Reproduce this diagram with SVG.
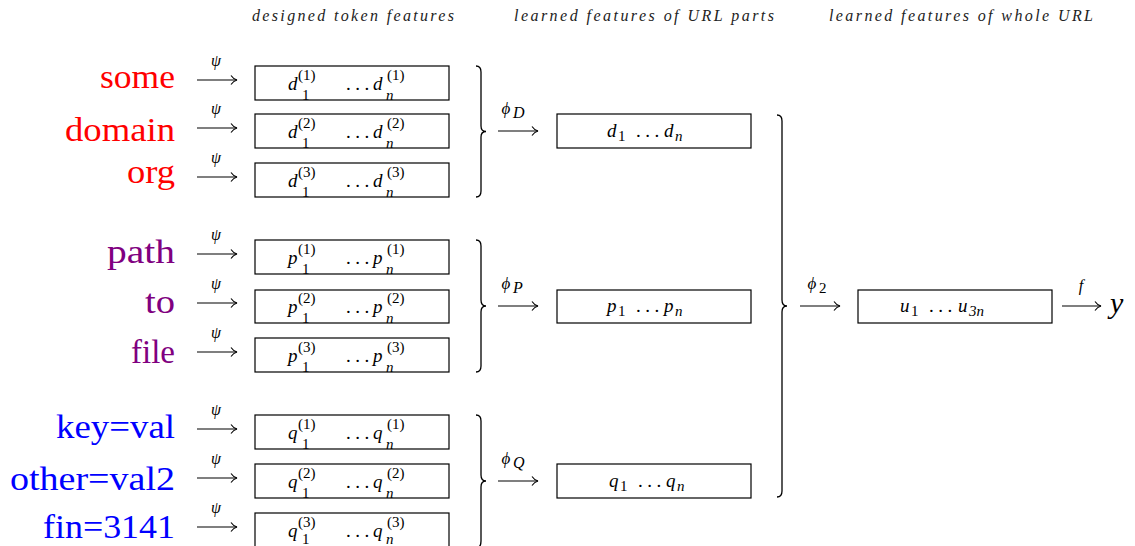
<svg xmlns="http://www.w3.org/2000/svg" width="1135" height="546" viewBox="0 0 1135 546">
<style>
  .hdr { font-family: "Liberation Serif", serif; font-style: italic; font-size: 16px; fill: #222; }
  .tok { font-family: "Liberation Serif", serif; font-size: 34px; text-anchor: end; }
  .red { fill: #ff0000; } .pur { fill: #800080; } .blu { fill: #0000ff; }
  .box { fill: #fff; stroke: #000; stroke-width: 1.2; }
  .m { font-family: "Liberation Serif", serif; font-style: italic; font-size: 19px; fill: #000; }
  .s { font-family: "Liberation Serif", serif; font-size: 15px; fill: #000; }
  .si { font-family: "Liberation Serif", serif; font-style: italic; font-size: 15px; fill: #000; }
  .dots { font-family: "Liberation Serif", serif; font-size: 19px; fill: #000; letter-spacing: 4.5px; }
  .lbl { font-family: "Liberation Serif", serif; font-style: italic; font-size: 16px; fill: #000; text-anchor: middle; }
  .brace { fill: none; stroke: #000; stroke-width: 1.3; }
  .arr { stroke: #000; stroke-width: 1.1; fill: none; marker-end: url(#ah); }
</style>
<defs>
  <marker id="ah" viewBox="0 0 8 10" refX="7" refY="5" markerWidth="8" markerHeight="10" markerUnits="userSpaceOnUse" orient="auto">
    <path d="M1,0.5 C3,3.5 5,4.5 7,5 C5,5.5 3,6.5 1,9.5" fill="none" stroke="#000" stroke-width="1.1"/>
  </marker>
</defs>

<g id="headers">
  <text class="hdr" x="252" y="21" textLength="202" lengthAdjust="spacing">designed token features</text>
  <text class="hdr" x="514" y="21" textLength="260" lengthAdjust="spacing">learned features of URL parts</text>
  <text class="hdr" x="829" y="21" textLength="264" lengthAdjust="spacing">learned features of whole URL</text>
</g>

<g id="tokens">
  <text id="tok-some" class="tok red" x="175" y="88" textLength="75" lengthAdjust="spacingAndGlyphs">some</text>
  <text id="tok-domain" class="tok red" x="175" y="141" textLength="110" lengthAdjust="spacingAndGlyphs">domain</text>
  <text id="tok-org" class="tok red" x="175" y="183" textLength="48" lengthAdjust="spacingAndGlyphs">org</text>
  <text id="tok-path" class="tok pur" x="175" y="263" textLength="68" lengthAdjust="spacingAndGlyphs">path</text>
  <text id="tok-to" class="tok pur" x="175" y="313" textLength="30" lengthAdjust="spacingAndGlyphs">to</text>
  <text id="tok-file" class="tok pur" x="175" y="363" textLength="44" lengthAdjust="spacingAndGlyphs">file</text>
  <text id="tok-key" class="tok blu" x="175" y="438" textLength="119" lengthAdjust="spacingAndGlyphs">key=val</text>
  <text id="tok-other" class="tok blu" x="175" y="490" textLength="165" lengthAdjust="spacingAndGlyphs">other=val2</text>
  <text id="tok-fin" class="tok blu" x="175" y="538" textLength="132" lengthAdjust="spacingAndGlyphs">fin=3141</text>
</g>

<!-- token feature boxes -->
<g id="box-d1"><rect class="box" x="255" y="66" width="194" height="34"/>
  <text class="m" x="288" y="90">d</text><text class="s" x="298" y="80">(1)</text><text class="s" x="302" y="100">1</text>
  <text class="dots" x="346" y="90">...</text>
  <text class="m" x="373" y="90">d</text><text class="s" x="387" y="80">(1)</text><text class="si" x="386" y="100">n</text></g>
<g id="box-d2"><rect class="box" x="255" y="114" width="194" height="34"/>
  <text class="m" x="288" y="138">d</text><text class="s" x="298" y="128">(2)</text><text class="s" x="302" y="148">1</text>
  <text class="dots" x="346" y="138">...</text>
  <text class="m" x="373" y="138">d</text><text class="s" x="387" y="128">(2)</text><text class="si" x="386" y="148">n</text></g>
<g id="box-d3"><rect class="box" x="255" y="163" width="194" height="34"/>
  <text class="m" x="288" y="187">d</text><text class="s" x="298" y="177">(3)</text><text class="s" x="302" y="197">1</text>
  <text class="dots" x="346" y="187">...</text>
  <text class="m" x="373" y="187">d</text><text class="s" x="387" y="177">(3)</text><text class="si" x="386" y="197">n</text></g>

<g id="box-p1"><rect class="box" x="255" y="240" width="194" height="34"/>
  <text class="m" x="288" y="264">p</text><text class="s" x="298" y="254">(1)</text><text class="s" x="302" y="274">1</text>
  <text class="dots" x="346" y="264">...</text>
  <text class="m" x="373" y="264">p</text><text class="s" x="387" y="254">(1)</text><text class="si" x="386" y="274">n</text></g>
<g id="box-p2"><rect class="box" x="255" y="290" width="194" height="33"/>
  <text class="m" x="288" y="313">p</text><text class="s" x="298" y="303">(2)</text><text class="s" x="302" y="323">1</text>
  <text class="dots" x="346" y="313">...</text>
  <text class="m" x="373" y="313">p</text><text class="s" x="387" y="303">(2)</text><text class="si" x="386" y="323">n</text></g>
<g id="box-p3"><rect class="box" x="255" y="338" width="194" height="34"/>
  <text class="m" x="288" y="362">p</text><text class="s" x="298" y="352">(3)</text><text class="s" x="302" y="372">1</text>
  <text class="dots" x="346" y="362">...</text>
  <text class="m" x="373" y="362">p</text><text class="s" x="387" y="352">(3)</text><text class="si" x="386" y="372">n</text></g>

<g id="box-q1"><rect class="box" x="255" y="415" width="194" height="34"/>
  <text class="m" x="288" y="439">q</text><text class="s" x="298" y="429">(1)</text><text class="s" x="302" y="449">1</text>
  <text class="dots" x="346" y="439">...</text>
  <text class="m" x="373" y="439">q</text><text class="s" x="387" y="429">(1)</text><text class="si" x="386" y="449">n</text></g>
<g id="box-q2"><rect class="box" x="255" y="464" width="194" height="34"/>
  <text class="m" x="288" y="488">q</text><text class="s" x="298" y="478">(2)</text><text class="s" x="302" y="498">1</text>
  <text class="dots" x="346" y="488">...</text>
  <text class="m" x="373" y="488">q</text><text class="s" x="387" y="478">(2)</text><text class="si" x="386" y="498">n</text></g>
<g id="box-q3"><rect class="box" x="255" y="513" width="194" height="34"/>
  <text class="m" x="288" y="537">q</text><text class="s" x="298" y="527">(3)</text><text class="s" x="302" y="544">1</text>
  <text class="dots" x="346" y="537">...</text>
  <text class="m" x="373" y="537">q</text><text class="s" x="387" y="527">(3)</text><text class="si" x="386" y="544">n</text></g>

<!-- braces -->
<g id="braces">
  <path class="brace" d="M476,66 C480,66 481,68 481,72 L481,126 C481,130 483,131.5 486,131.5 C483,131.5 481,133 481,137 L481,191 C481,195 480,197 476,197"/>
  <path class="brace" d="M476,240 C480,240 481,242 481,246 L481,300 C481,304 483,306 486,306 C483,306 481,308 481,312 L481,366 C481,370 480,372 476,372"/>
  <path class="brace" d="M476,415 C480,415 481,417 481,421 L481,475 C481,479 483,481 486,481 C483,481 481,483 481,487 L481,541 C481,545 480,548 476,548"/>
  <path class="brace" d="M777,115 C781,115 782,117 782,121 L782,300 C782,304 784,306 787,306 C784,306 782,308 782,312 L782,491 C782,495 781,497 777,497"/>
</g>

<!-- part feature boxes -->
<g id="box-d"><rect class="box" x="557" y="114" width="194" height="34"/>
  <text class="m" x="607" y="137">d</text><text class="s" x="618" y="141">1</text>
  <text class="dots" x="636" y="137">...</text>
  <text class="m" x="664" y="137">d</text><text class="si" x="675" y="141">n</text></g>
<g id="box-p"><rect class="box" x="557" y="290" width="194" height="33"/>
  <text class="m" x="607" y="312">p</text><text class="s" x="618" y="316">1</text>
  <text class="dots" x="636" y="312">...</text>
  <text class="m" x="664" y="312">p</text><text class="si" x="675" y="316">n</text></g>
<g id="box-q"><rect class="box" x="557" y="464" width="194" height="34"/>
  <text class="m" x="609" y="487">q</text><text class="s" x="620" y="491">1</text>
  <text class="dots" x="638" y="487">...</text>
  <text class="m" x="666" y="487">q</text><text class="si" x="677" y="491">n</text></g>

<!-- whole URL box -->
<g id="box-u"><rect class="box" x="858" y="290" width="194" height="33"/>
  <text class="m" x="900" y="312">u</text><text class="s" x="911" y="316">1</text>
  <text class="dots" x="929" y="312">...</text>
  <text class="m" x="958" y="312">u</text><text class="si" x="969" y="316">3n</text></g>

<g id="output-y"><text x="1110" y="313" style="font-family:'Liberation Serif',serif;font-style:italic;font-size:30px;fill:#000">y</text></g>

<g id="connectors">
  <line class="arr" x1="197" y1="80" x2="237" y2="80"/>
  <line class="arr" x1="197" y1="128" x2="237" y2="128"/>
  <line class="arr" x1="197" y1="177" x2="237" y2="177"/>
  <line class="arr" x1="197" y1="254" x2="237" y2="254"/>
  <line class="arr" x1="197" y1="303" x2="237" y2="303"/>
  <line class="arr" x1="197" y1="352" x2="237" y2="352"/>
  <line class="arr" x1="197" y1="429" x2="237" y2="429"/>
  <line class="arr" x1="197" y1="478" x2="237" y2="478"/>
  <line class="arr" x1="197" y1="527" x2="237" y2="527"/>
  <text class="lbl" x="216" y="66">ψ</text>
  <text class="lbl" x="216" y="114">ψ</text>
  <text class="lbl" x="216" y="163">ψ</text>
  <text class="lbl" x="216" y="240">ψ</text>
  <text class="lbl" x="216" y="289">ψ</text>
  <text class="lbl" x="216" y="338">ψ</text>
  <text class="lbl" x="216" y="415">ψ</text>
  <text class="lbl" x="216" y="464">ψ</text>
  <text class="lbl" x="216" y="513">ψ</text>

  <line class="arr" x1="498" y1="131" x2="538" y2="131"/>
  <line class="arr" x1="498" y1="306" x2="538" y2="306"/>
  <line class="arr" x1="498" y1="481" x2="538" y2="481"/>
  <text class="lbl" x="506" y="114" style="font-size:17px">ϕ</text><text class="si" x="513" y="118" style="font-size:16px">D</text>
  <text class="lbl" x="506" y="289" style="font-size:17px">ϕ</text><text class="si" x="513" y="293" style="font-size:16px">P</text>
  <text class="lbl" x="506" y="464" style="font-size:17px">ϕ</text><text class="si" x="513" y="468" style="font-size:16px">Q</text>

  <line class="arr" x1="800" y1="306" x2="840" y2="306"/>
  <text class="lbl" x="812" y="289" style="font-size:17px">ϕ</text><text class="s" x="819" y="293">2</text>

  <line class="arr" x1="1062" y1="306" x2="1101" y2="306"/>
  <text class="lbl" x="1081" y="291">f</text>
</g>
</svg>
